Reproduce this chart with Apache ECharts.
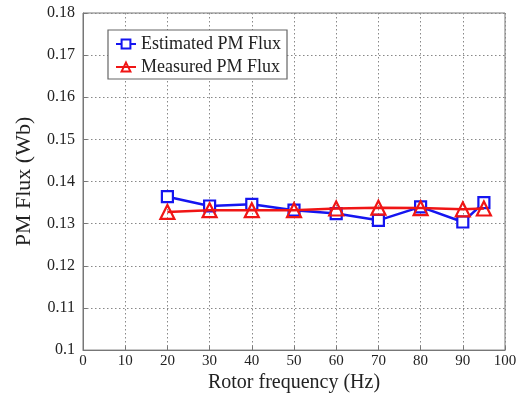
<!DOCTYPE html>
<html><head><meta charset="utf-8">
<script src="https://cdn.jsdelivr.net/npm/echarts@6/dist/echarts.min.js"></script>
<style>html,body{margin:0;padding:0;background:#fff}#c{width:526px;height:398px}</style>
</head><body><div id="c"></div>
<script>
const freq = [20, 30, 40, 50, 60, 70, 80, 90, 95];
const estimated = [0.1364, 0.1342, 0.1346, 0.1332, 0.1324, 0.1308, 0.1340, 0.1304, 0.1350];
const measured = [0.1328, 0.1332, 0.1332, 0.1332, 0.1336, 0.1338, 0.1337, 0.1334, 0.1336];
const seriesNames = ['Estimated PM Flux', 'Measured PM Flux'];

const font = '"Liberation Serif", "Times New Roman", serif';
const chart = echarts.init(document.getElementById('c'), null, {renderer: 'canvas'});
const grid = {left: 83, right: 21, top: 13, bottom: 47, show: true, borderColor: '#777', borderWidth: 1};
const gridLine = {show: true, lineStyle: {color: '#888', type: [1.5, 2.5], width: 1}};
chart.setOption({
  animation: false,
  backgroundColor: '#fff',
  grid,
  legend: {
    left: 108, top: 30, orient: 'vertical',
    backgroundColor: '#fff', borderColor: '#666', borderWidth: 1.2,
    padding: [5, 6, 3, 7], itemGap: 5, itemWidth: 20, itemHeight: 11,
    textStyle: {fontFamily: font, fontSize: 18, color: '#222'},
    data: seriesNames
  },
  xAxis: {
    type: 'value', min: 0, max: 100, interval: 10,
    name: 'Rotor frequency (Hz)', nameLocation: 'middle', nameGap: 20,
    nameTextStyle: {fontFamily: font, fontSize: 20, color: '#222'},
    axisLine: {lineStyle: {color: '#777'}},
    axisTick: {inside: true, length: 4, lineStyle: {color: '#777'}},
    axisLabel: {fontFamily: font, fontSize: 15, color: '#222', margin: 3},
    splitLine: gridLine
  },
  yAxis: {
    type: 'value', min: 0.1, max: 0.18, interval: 0.01,
    name: 'PM Flux (Wb)', nameLocation: 'middle', nameGap: 48,
    nameTextStyle: {fontFamily: font, fontSize: 22, color: '#222'},
    axisLine: {show: true, lineStyle: {color: '#777'}},
    axisTick: {show: true, inside: true, length: 4, lineStyle: {color: '#777'}},
    axisLabel: {fontFamily: font, fontSize: 16, color: '#222', margin: 8,
      formatter: v => String(+v.toFixed(2))},
    splitLine: gridLine
  },
  series: [
    {
      name: seriesNames[0], type: 'line',
      data: freq.map((f, i) => [f, estimated[i]]),
      symbol: 'rect', symbolSize: 11, showAllSymbol: true,
      lineStyle: {color: '#1515f0', width: 2.5},
      itemStyle: {color: '#fff', borderColor: '#1515f0', borderWidth: 2.2},
      z: 3
    },
    {
      name: seriesNames[1], type: 'line',
      data: freq.map((f, i) => [f, measured[i]]),
      symbol: 'triangle', symbolSize: 14, showAllSymbol: true,
      lineStyle: {color: '#f01515', width: 2.5},
      itemStyle: {color: 'rgba(255,255,255,0)', borderColor: '#f01515', borderWidth: 2.2},
      z: 4
    }
  ]
});
</script></body></html>
